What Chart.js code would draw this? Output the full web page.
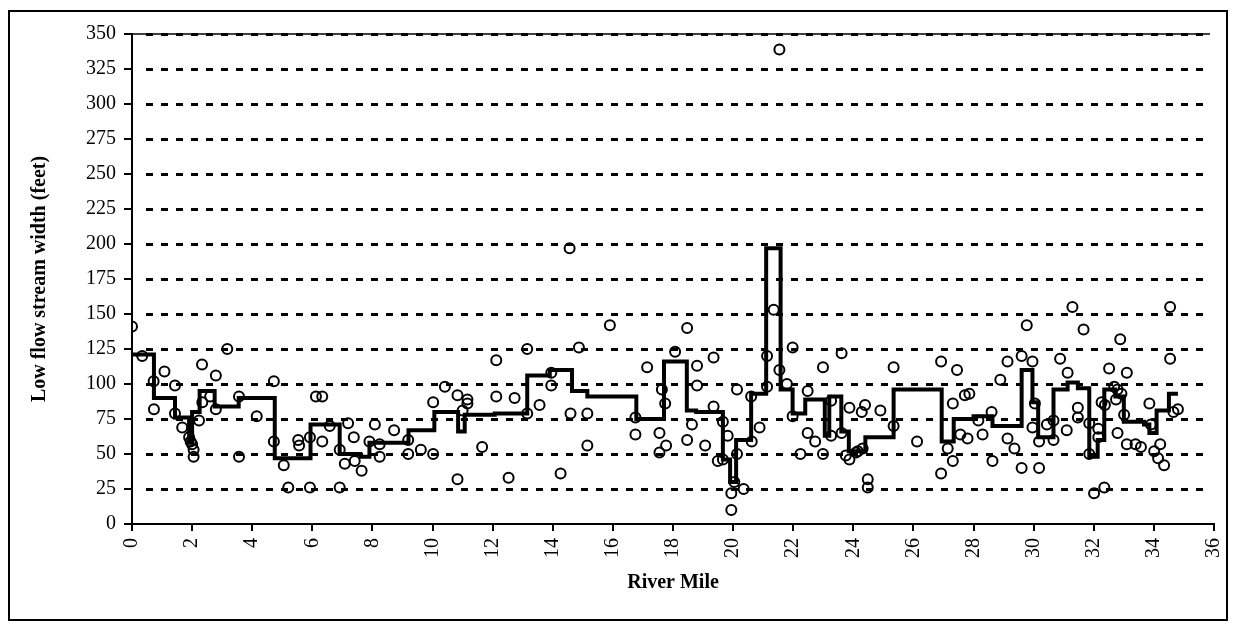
<!DOCTYPE html>
<html>
<head>
<meta charset="utf-8">
<script src="https://cdn.jsdelivr.net/npm/chart.js@4.4.1/dist/chart.umd.min.js"></script>
<style>
  html, body { margin: 0; padding: 0; background: #fff; }
  #wrap { width: 1236px; height: 630px; }
</style>
</head>
<body>
<div id="wrap"><canvas id="chart"></canvas></div>
<script>
// measured stream widths (open circles)
const pointMiles = [
  0, 0.34, 0.72, 0.73, 1.08, 1.43, 1.43, 1.67, 1.9, 1.95, 2.0, 2.05, 2.05, 2.23, 2.33, 2.34, 2.6, 2.79, 2.79, 3.17, 3.56, 3.56,
  4.15, 4.72, 4.72, 5.05, 5.2, 5.53, 5.56, 5.92, 5.92, 6.12, 6.33, 6.33, 6.58, 6.91, 6.91, 7.08, 7.19, 7.38, 7.41, 7.64, 7.9,
  8.08, 8.24, 8.24, 8.72, 9.19, 9.19, 9.61, 10.02, 10.02, 10.41, 10.83, 10.83, 11.0, 11.16, 11.16, 11.65,
  12.12, 12.12, 12.53, 12.73, 13.15, 13.15, 13.56, 13.95, 13.95, 14.26, 14.56, 14.59, 14.87, 15.15, 15.15, 15.9,
  16.75, 16.75, 17.14, 17.55, 17.55, 17.63, 17.74, 17.77, 18.07, 18.47, 18.47, 18.63, 18.8, 18.8, 19.07, 19.35, 19.35, 19.49, 19.66, 19.66,
  19.82, 19.94, 19.94, 20.04, 20.13, 20.13, 20.35, 20.6, 20.62, 20.88, 21.13, 21.13, 21.35, 21.54, 21.54, 21.79, 21.98, 21.98,
  22.24, 22.48, 22.48, 22.73, 22.99, 22.99, 23.26, 23.26, 23.61, 23.61, 23.75, 23.87, 23.87,
  24.09, 24.15, 24.28, 24.31, 24.39, 24.48, 24.48, 24.9, 25.34, 25.34, 26.12, 26.92, 26.92, 27.14, 27.31, 27.31, 27.45, 27.56, 27.71, 27.8, 27.86,
  28.16, 28.3, 28.6, 28.63, 28.89, 29.13, 29.13, 29.36, 29.6, 29.6, 29.77, 29.96, 29.96, 30.04, 30.18, 30.18, 30.44, 30.66, 30.66, 30.88,
  31.1, 31.13, 31.29, 31.47, 31.47, 31.66, 31.85, 31.85, 32.01, 32.15, 32.15, 32.26, 32.35, 32.37, 32.51, 32.68, 32.74, 32.79, 32.79, 32.88, 32.92,
  33.01, 33.1, 33.1, 33.39, 33.57, 33.85, 33.9, 34.01, 34.14, 34.21, 34.34, 34.54, 34.54, 34.65, 34.8
];
const pointWidths = [
  141, 120, 102, 82, 109, 99, 79, 69, 62, 59, 57, 53, 48, 74, 114, 87, 91, 106, 82, 125, 91, 48,
  77, 102, 59, 42, 26, 60, 56, 62, 26, 91, 91, 59, 70, 53, 26, 43, 72, 62, 45, 38, 59,
  71, 57, 48, 67, 60, 50, 53, 87, 50, 98, 92, 32, 81, 89, 86, 55,
  117, 91, 33, 90, 125, 79, 85, 108, 99, 36, 197, 79, 126, 79, 56, 142,
  76, 64, 112, 65, 51, 96, 86, 56, 123, 140, 60, 71, 113, 99, 56, 119, 84, 45, 73, 46,
  63, 22, 10, 30, 96, 50, 25, 91, 59, 69, 120, 98, 153, 339, 110, 100, 126, 77,
  50, 95, 65, 59, 112, 50, 88, 63, 122, 65, 49, 83, 46,
  51, 52, 80, 54, 85, 32, 26, 81, 112, 70, 59, 116, 36, 54, 86, 45, 110, 64, 92, 61, 93,
  74, 64, 80, 45, 103, 116, 61, 54, 120, 40, 142, 116, 69, 86, 59, 40, 71, 74, 60, 118,
  67, 108, 155, 83, 76, 139, 72, 50, 22, 68, 62, 87, 26, 85, 111, 98, 89, 96, 65, 132, 93,
  78, 108, 57, 57, 55, 86, 71, 52, 47, 57, 42, 155, 118, 80, 82
];

// reach-averaged width (stepped line): segment start miles, last entry is the end mile
const stepMiles = [
  0, 0.73, 1.43, 1.9, 2.0, 2.25, 2.75, 3.55, 4.75, 5.94, 6.91, 7.6, 7.9, 9.2, 10.06, 10.85, 11.07, 12.07,
  13.15, 13.9, 14.64, 15.15, 16.78, 17.7, 18.46, 18.77, 19.66, 19.9, 20.1, 20.6, 21.1, 21.58, 21.98, 22.4,
  23.05, 23.2, 23.6, 23.85, 24.4, 25.34, 26.94, 27.34, 28.0, 28.63, 29.6, 29.96, 30.15, 30.66, 31.13, 31.47,
  31.85, 32.13, 32.35, 32.72, 33.0, 33.67, 33.85, 34.09, 34.5, 34.8
];
const stepWidths = [
  121, 90, 76, 58, 80, 95, 84, 90, 47, 71, 50, 48, 58, 67, 80, 66, 78, 79,
  106, 110, 95, 91, 75, 116, 81, 80, 46, 30, 60, 93, 197, 96, 79, 89,
  63, 91, 66, 52, 62, 96, 59, 75, 77, 70, 110, 87, 62, 96, 101, 97,
  48, 60, 96, 91, 73, 71, 65, 81, 93
];

const xTicks = [0, 2, 4, 6, 8, 10, 12, 14, 16, 18, 20, 22, 24, 26, 28, 30, 32, 34, 36];
const yTicks = [0, 25, 50, 75, 100, 125, 150, 175, 200, 225, 250, 275, 300, 325, 350];

const serif = "'Liberation Serif', 'Times New Roman', serif";

const scatterData = pointMiles.map((m, i) => ({ x: m, y: pointWidths[i] }));
const stepData = stepMiles.map((m, i) => ({ x: m, y: stepWidths[Math.min(i, stepWidths.length - 1)] }));

// white background, dashed horizontal grid and outer frame
const framePlugin = {
  id: "frame",
  beforeDraw(chart) {
    const ctx = chart.ctx;
    ctx.save();
    ctx.fillStyle = "#fff";
    ctx.fillRect(0, 0, chart.width, chart.height);
    ctx.restore();
  },
  beforeDatasetsDraw(chart) {
    const { ctx, chartArea } = chart;
    const y = chart.scales.y;
    ctx.save();
    ctx.strokeStyle = "#000";
    // solid line along the top
    ctx.lineWidth = 1.5;
    ctx.beginPath();
    ctx.moveTo(chartArea.left, chartArea.top);
    ctx.lineTo(chartArea.right - 4, chartArea.top);
    ctx.stroke();
    ctx.lineWidth = 3;
    ctx.setLineDash([7, 8]);
    yTicks.forEach((v) => {
      if (v === 0) return;
      const py = Math.round(y.getPixelForValue(v)) + 0.5;
      ctx.beginPath();
      ctx.moveTo(chartArea.left + 14, py);
      ctx.lineTo(chartArea.right - 4, py);
      ctx.stroke();
    });
    ctx.restore();
  },
  afterDraw(chart) {
    const ctx = chart.ctx;
    ctx.save();
    ctx.strokeStyle = "#000";
    ctx.lineWidth = 2;
    ctx.strokeRect(9, 11, 1218, 609);
    ctx.restore();
  },
};

new Chart(document.getElementById("chart"), {
  type: "scatter",
  data: {
    datasets: [
      {
        label: "Measured width",
        data: scatterData,
        pointStyle: "circle",
        pointRadius: 5,
        pointBorderWidth: 2,
        pointBorderColor: "#000",
        pointBackgroundColor: "rgba(0,0,0,0)",
        showLine: false,
        order: 1,
      },
      {
        label: "Reach width",
        data: stepData,
        showLine: true,
        stepped: "before",
        borderColor: "#000",
        borderWidth: 4,
        pointRadius: 0,
        fill: false,
        order: 2,
      },
    ],
  },
  options: {
    responsive: true,
    maintainAspectRatio: false,
    animation: false,
    layout: { padding: { left: 24, top: 34, right: 22, bottom: 35 } },
    plugins: {
      legend: { display: false },
      tooltip: { enabled: false },
    },
    scales: {
      x: {
        type: "linear",
        min: 0,
        max: 36,
        afterBuildTicks: (scale) => {
          scale.ticks = xTicks.map((v) => ({ value: v }));
        },
        afterFit: (scale) => {
          scale.height = 71;
          scale.paddingLeft = 0;
          scale.paddingRight = 0;
        },
        grid: { drawOnChartArea: false, drawTicks: true, tickLength: 7, color: "#000", lineWidth: 2 },
        border: { display: true, color: "#000", width: 2 },
        ticks: {
          color: "#000",
          font: { family: serif, size: 20 },
          minRotation: 90,
          maxRotation: 90,
          padding: 7,
        },
        title: {
          display: true,
          text: "River Mile",
          color: "#000",
          font: { family: serif, size: 20, weight: "bold" },
          padding: { top: 0, bottom: 0 },
        },
      },
      y: {
        type: "linear",
        min: 0,
        max: 350,
        afterBuildTicks: (scale) => {
          scale.ticks = yTicks.map((v) => ({ value: v }));
        },
        afterFit: (scale) => {
          scale.width = 108;
        },
        grid: { drawOnChartArea: false, drawTicks: true, tickLength: 8, color: "#000", lineWidth: 2 },
        border: { display: true, color: "#000", width: 2 },
        ticks: {
          color: "#000",
          font: { family: serif, size: 20 },
          padding: 8,
        },
        title: {
          display: true,
          text: "Low flow stream width (feet)",
          color: "#000",
          font: { family: serif, size: 20, weight: "bold" },
          padding: { top: 4, bottom: 4 },
        },
      },
    },
  },
  plugins: [framePlugin],
});
</script>
</body>
</html>
